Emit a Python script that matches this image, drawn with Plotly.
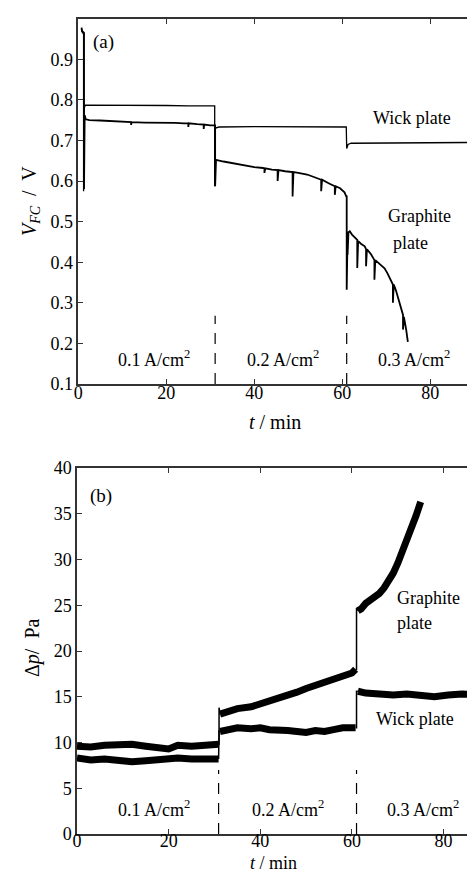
import plotly.graph_objects as go

W, H = 475, 874
FONT = "Liberation Serif"

# ---------------- (a) cell voltage ----------------
t_wick_a = [0.7, 0.8, 1.2, 1.2, 1.35, 1.6, 5, 10, 15, 20, 25, 30.9, 31.0, 31.0, 31.1, 31.3, 32, 40, 50, 60.9, 60.9,
            61.0, 61.3, 62, 70, 80, 90, 90.5, 91]
v_wick_a = [0.975, 0.968, 0.962, 0.575, 0.780, 0.787, 0.787, 0.787, 0.786, 0.786, 0.785, 0.785, 0.785, 0.587, 0.728,
            0.731, 0.733, 0.734, 0.734, 0.733, 0.733, 0.680, 0.690, 0.693, 0.694, 0.695, 0.695, 0.698, 0.698]

t_graph_a = [0.75, 0.85, 1.3, 1.3, 1.45, 1.7, 2.5, 5, 8, 10, 12, 12, 12.1, 15, 18, 20, 22, 24, 25, 25, 25.1, 27,
             28.5, 28.5, 28.6, 30, 31.0,
             31.1, 31.1, 31.3, 33, 35, 37, 40, 42, 42.3, 42.3, 42.5, 44, 45.3, 45.3, 45.5, 47, 48.7, 48.7, 48.9, 50,
             52, 54, 55.2, 55.2, 55.4, 57, 58.3, 58.3, 58.5, 59.5, 60.5, 60.9,
             61.0, 61.0, 61.2, 61.2, 61.4, 61.7, 62.2, 62.8, 63.4, 63.4, 63.6, 64.3, 65.1, 65.4, 65.4, 65.6, 66.5,
             67.3, 67.3, 67.5, 68.5, 69.6, 70.3, 71.1, 71.5, 71.5, 71.7, 72.2, 72.7, 73.3, 73.8, 73.8, 74.0, 74.5, 74.9]
v_graph_a = [0.978, 0.970, 0.965, 0.580, 0.762, 0.752, 0.750, 0.749, 0.747, 0.746, 0.745, 0.738, 0.745, 0.744, 0.744,
             0.744, 0.743, 0.742, 0.742, 0.733, 0.742, 0.740, 0.739, 0.728, 0.739, 0.737, 0.737,
             0.737, 0.587, 0.652, 0.648, 0.644, 0.640, 0.634, 0.632, 0.631, 0.620, 0.631, 0.628, 0.627, 0.600, 0.627,
             0.624, 0.622, 0.562, 0.622, 0.620, 0.616, 0.608, 0.603, 0.575, 0.603, 0.594, 0.587, 0.566, 0.587, 0.582,
             0.572, 0.562,
             0.562, 0.332, 0.470, 0.418, 0.474, 0.476, 0.468, 0.462, 0.455, 0.386, 0.452, 0.445, 0.439, 0.432, 0.390,
             0.432, 0.420, 0.405, 0.357, 0.405, 0.395, 0.385, 0.372, 0.356, 0.345, 0.300, 0.345, 0.330, 0.311, 0.290,
             0.270, 0.234, 0.265, 0.235, 0.204]

# ---------------- (b) pressure drop ----------------
t_graph_b1 = [0, 3, 6, 9, 12, 15, 18, 20, 22, 25, 28, 30.9]
p_graph_b1 = [9.6, 9.5, 9.7, 9.8, 9.8, 9.6, 9.4, 9.3, 9.7, 9.6, 9.7, 9.8]
t_wick_b1 = [0, 3, 6, 9, 12, 15, 18, 20, 22, 25, 28, 30.9]
p_wick_b1 = [8.3, 8.1, 8.2, 8.0, 7.9, 8.0, 8.1, 8.3, 8.3, 8.2, 8.2, 8.2]

t_graph_b2 = [31.2, 33, 35, 38, 40, 42, 44, 46, 48, 50, 52, 54, 56, 58, 60, 60.8]
p_graph_b2 = [13.1, 13.4, 13.7, 13.9, 14.2, 14.4, 14.8, 15.2, 15.5, 15.9, 16.2, 16.5, 16.9, 17.2, 17.6, 18.0]
t_wick_b2 = [31.2, 33, 35, 38, 40, 42, 44, 46, 48, 50, 52, 54, 56, 58, 60.8]
p_wick_b2 = [11.2, 11.4, 11.6, 11.5, 11.6, 11.4, 11.4, 11.3, 11.2, 11.1, 11.3, 11.2, 11.4, 11.6, 11.6]

t_graph_b3 = [61.3, 62, 63, 64, 65, 66, 67, 68, 69, 70, 71, 72, 73, 74, 75]
p_graph_b3 = [24.4, 24.6, 25.2, 25.5, 25.8, 26.3, 26.9, 27.6, 28.5, 29.6, 30.8, 32.0, 33.4, 34.8, 36.3]
t_wick_b3 = [61.3, 63, 66, 69, 72, 75, 78, 81, 84, 87, 88.6]
p_wick_b3 = [15.6, 15.4, 15.3, 15.2, 15.3, 15.1, 15.0, 15.2, 15.3, 15.2, 15.3]

# step connectors between current densities
t_graph_jump1 = [30.9, 31.0, 31.0, 31.2]
p_graph_jump1 = [9.8, 9.8, 13.8, 13.1]
t_wick_jump1 = [30.9, 31.0, 31.2]
p_wick_jump1 = [8.2, 11.3, 11.2]
t_graph_jump2 = [60.8, 61.0, 61.0, 61.3]
p_graph_jump2 = [18.0, 18.0, 24.7, 24.4]
t_wick_jump2 = [60.8, 61.0, 61.0, 61.3]
p_wick_jump2 = [11.6, 11.6, 15.6, 15.6]

# current-step markers
t_steps_a = [31.1, 61.0]
v_mark_a = [0.1, 0.268]
t_steps_b = [30.9, 61.0]
p_mark_b = [0.0, 7.0]

current_labels = ["0.1 A/cm<sup>2</sup>", "0.2 A/cm<sup>2</sup>", "0.3 A/cm<sup>2</sup>"]

fig = go.Figure()
black = "black"

fig.add_trace(go.Scatter(x=t_wick_a, y=v_wick_a, mode="lines", line=dict(color=black, width=1.3),
                         xaxis="x", yaxis="y", showlegend=False))
fig.add_trace(go.Scatter(x=t_graph_a, y=v_graph_a, mode="lines", line=dict(color=black, width=1.8),
                         xaxis="x", yaxis="y", showlegend=False))
for ts in t_steps_a:
    fig.add_trace(go.Scatter(x=[ts, ts], y=v_mark_a, mode="lines",
                             line=dict(color=black, width=1.2, dash="11px,9px"),
                             xaxis="x", yaxis="y", showlegend=False))

for tx, py in [(t_graph_b1, p_graph_b1), (t_wick_b1, p_wick_b1), (t_graph_b2, p_graph_b2),
               (t_wick_b2, p_wick_b2), (t_graph_b3, p_graph_b3), (t_wick_b3, p_wick_b3)]:
    fig.add_trace(go.Scatter(x=tx, y=py, mode="lines", line=dict(color=black, width=7),
                             xaxis="x2", yaxis="y2", showlegend=False))
for tx, py in [(t_graph_jump1, p_graph_jump1), (t_wick_jump1, p_wick_jump1),
               (t_graph_jump2, p_graph_jump2), (t_wick_jump2, p_wick_jump2)]:
    fig.add_trace(go.Scatter(x=tx, y=py, mode="lines", line=dict(color=black, width=1.5),
                             xaxis="x2", yaxis="y2", showlegend=False))
for ts in t_steps_b:
    fig.add_trace(go.Scatter(x=[ts, ts], y=p_mark_b, mode="lines",
                             line=dict(color=black, width=1.2, dash="11px,9px"),
                             xaxis="x2", yaxis="y2", showlegend=False))

axis_common = dict(showline=True, linecolor="#333", linewidth=1.5, mirror="ticks", ticks="inside",
                   ticklen=5, tickcolor="#333", tickwidth=1, showgrid=False, zeroline=False,
                   tickfont=dict(family=FONT, size=18, color=black), automargin=False)

fig.update_layout(
    width=W, height=H, margin=dict(l=0, r=0, t=0, b=0),
    paper_bgcolor="white", plot_bgcolor="white",
    xaxis=dict(axis_common, domain=[70.3 / W, 470.7 / W], range=[0, 91], tickvals=[0, 20, 40, 60, 80],
               anchor="y", ticklabelstandoff=-8),
    yaxis=dict(axis_common, domain=[1 - 376 / H, 1 - 11 / H], range=[0.1, 0.999],
               tickvals=[0.1, 0.2, 0.3, 0.4, 0.5, 0.6, 0.7, 0.8, 0.9], anchor="x"),
    xaxis2=dict(axis_common, domain=[69 / W, 1.0], range=[0, 88.6], tickvals=[0, 20, 40, 60, 80],
                anchor="y2", ticklabelstandoff=-10),
    yaxis2=dict(axis_common, domain=[1 - 826 / H, 1 - 460 / H], range=[0, 40],
                tickvals=[0, 5, 10, 15, 20, 25, 30, 35, 40], anchor="x2"),
)

def label(text, x, y, xref, yref, xanchor="center", size=18, angle=0):
    fig.add_annotation(text=text, x=x, y=y, xref=xref, yref=yref, xanchor=xanchor, yanchor="middle",
                       showarrow=False, textangle=angle, font=dict(family=FONT, size=size, color=black))

# panel (a) labels
label("(a)", 5.8, 0.942, "x", "y", size=19)
label("Wick plate", 75.9, 0.755, "x", "y")
label("Graphite", 70.0, 0.514, "x", "y", xanchor="left")
label("plate", 71.1, 0.447, "x", "y", xanchor="left")
for txt, tx in zip(current_labels, [17.2, 46.5, 76.3]):
    label(txt, tx, 0.162, "x", "y")

# panel (b) labels
label("(b)", 5.2, 36.9, "x2", "y2", size=19)
label("Graphite", 69.4, 25.8, "x2", "y2", xanchor="left")
label("plate", 69.4, 23.1, "x2", "y2", xanchor="left")
label("Wick plate", 73.8, 12.6, "x2", "y2")
for txt, tx in zip(current_labels, [16.8, 46.0, 75.5]):
    label(txt, tx, 2.8, "x2", "y2")

# axis titles
label("<i>t</i> / min", 267 / W, 1 - 414 / H, "paper", "paper", size=20)
label("<i>t</i> / min", 265 / W, 1 - 855 / H, "paper", "paper", size=18)
label("<i>V</i><sub><i>FC</i></sub>  /  V", 22 / W, 1 - 193 / H, "paper", "paper", size=20, angle=-90)
label("Δ<i>p</i>/  Pa", 24 / W, 1 - 640 / H, "paper", "paper", size=20, angle=-90)

fig.write_html("out.html")
